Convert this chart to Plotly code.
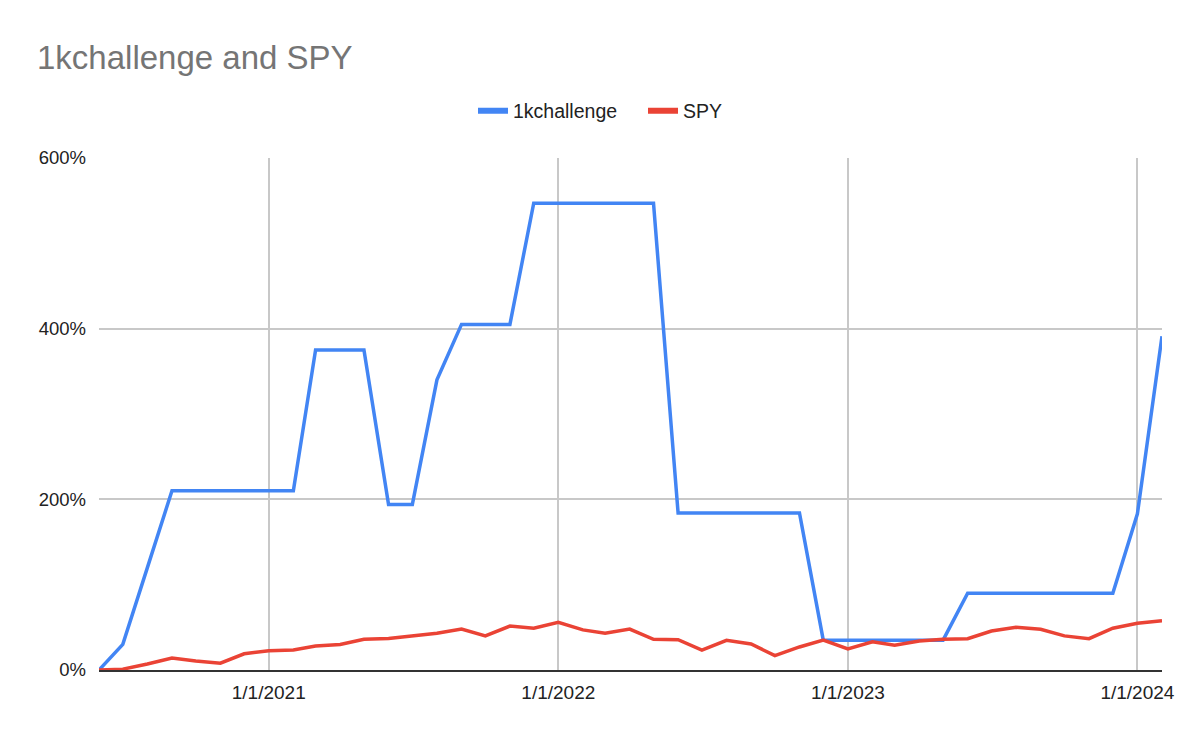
import pandas as pd
import plotly.graph_objects as go

# Monthly observations, June 2020 – February 2024
months = pd.date_range("2020-06-01", "2024-02-01", freq="MS")

challenge_1k = [0, 30, 120, 210, 210, 210, 210, 210, 210, 375, 375, 375,
                194, 194, 340, 405, 405, 405, 547, 547, 547, 547, 547, 547,
                184, 184, 184, 184, 184, 184, 35, 35, 35, 35, 35, 35,
                90, 90, 90, 90, 90, 90, 90, 183, 391]

spy = [0, 1, 7, 14, 10.5, 8, 19, 22.6, 23.4, 28, 30, 36,
       37, 40, 43, 48, 40, 51.5, 49, 56, 47, 43, 48, 36,
       35.5, 23.4, 34.7, 30.5, 16.8, 27, 35, 24.6, 33, 29, 34, 36,
       36.7, 45.7, 50, 47.7, 40, 36.7, 49, 54.7, 57.8]

x_tick_vals = ["2021-01-01", "2022-01-01", "2023-01-01", "2024-01-01"]
x_tick_text = ["1/1/2021", "1/1/2022", "1/1/2023", "1/1/2024"]
y_tick_vals = [0, 200, 400, 600]
y_tick_text = ["0%", "200%", "400%", "600%"]

BLUE = "#4285F4"
RED = "#EA4335"
FONT = "Liberation Sans, Arial, sans-serif"

fig = go.Figure()
fig.add_trace(go.Scatter(x=months, y=challenge_1k, mode="lines", name="1kchallenge",
                         line=dict(color=BLUE, width=3.5), showlegend=False))
fig.add_trace(go.Scatter(x=months, y=spy, mode="lines", name="SPY",
                         line=dict(color=RED, width=3.5), showlegend=False))
# legend entries
fig.add_trace(go.Scatter(x=[None], y=[None], mode="lines", name="1kchallenge",
                         line=dict(color=BLUE, width=6)))
fig.add_trace(go.Scatter(x=[None], y=[None], mode="lines", name="SPY",
                         line=dict(color=RED, width=6)))

# page body has an 8px offset, so positions are expressed relative to it
fig.update_layout(
    width=1200, height=742,
    margin=dict(l=91, r=46, t=150, b=80),
    paper_bgcolor="white", plot_bgcolor="white",
    font=dict(family=FONT, size=19, color="#222222"),
    title=dict(text="1kchallenge and SPY", x=29/1200, xanchor="left",
               xref="container", yref="container", y=1 - 49/742, yanchor="middle",
               font=dict(family=FONT, size=33, color="#757575")),
    legend=dict(orientation="h", xref="container", yref="container",
                x=635/1200, xanchor="center", y=1 - 103/742, yanchor="middle",
                font=dict(family=FONT, size=19.5, color="#222222"),
                itemwidth=30, entrywidth=125, tracegroupgap=0),
    showlegend=True,
)
fig.update_xaxes(
    type="date", range=["2020-06-01", "2024-02-01"],
    tickvals=x_tick_vals, ticktext=x_tick_text,
    showgrid=True, gridcolor="#c8c8c8", gridwidth=1.5,
    showline=True, linecolor="#333333", linewidth=2,
    ticks="", ticklabelstandoff=4,
    tickfont=dict(family=FONT, size=19, color="#222222"),
    zeroline=False,
)
fig.update_yaxes(
    range=[0, 600], tickvals=y_tick_vals, ticktext=y_tick_text,
    showgrid=True, gridcolor="#c8c8c8", gridwidth=1.5,
    zeroline=False, showline=False, ticks="", ticklabelstandoff=12,
    tickfont=dict(family=FONT, size=18.5, color="#222222"),
)

fig.write_html("out.html")
